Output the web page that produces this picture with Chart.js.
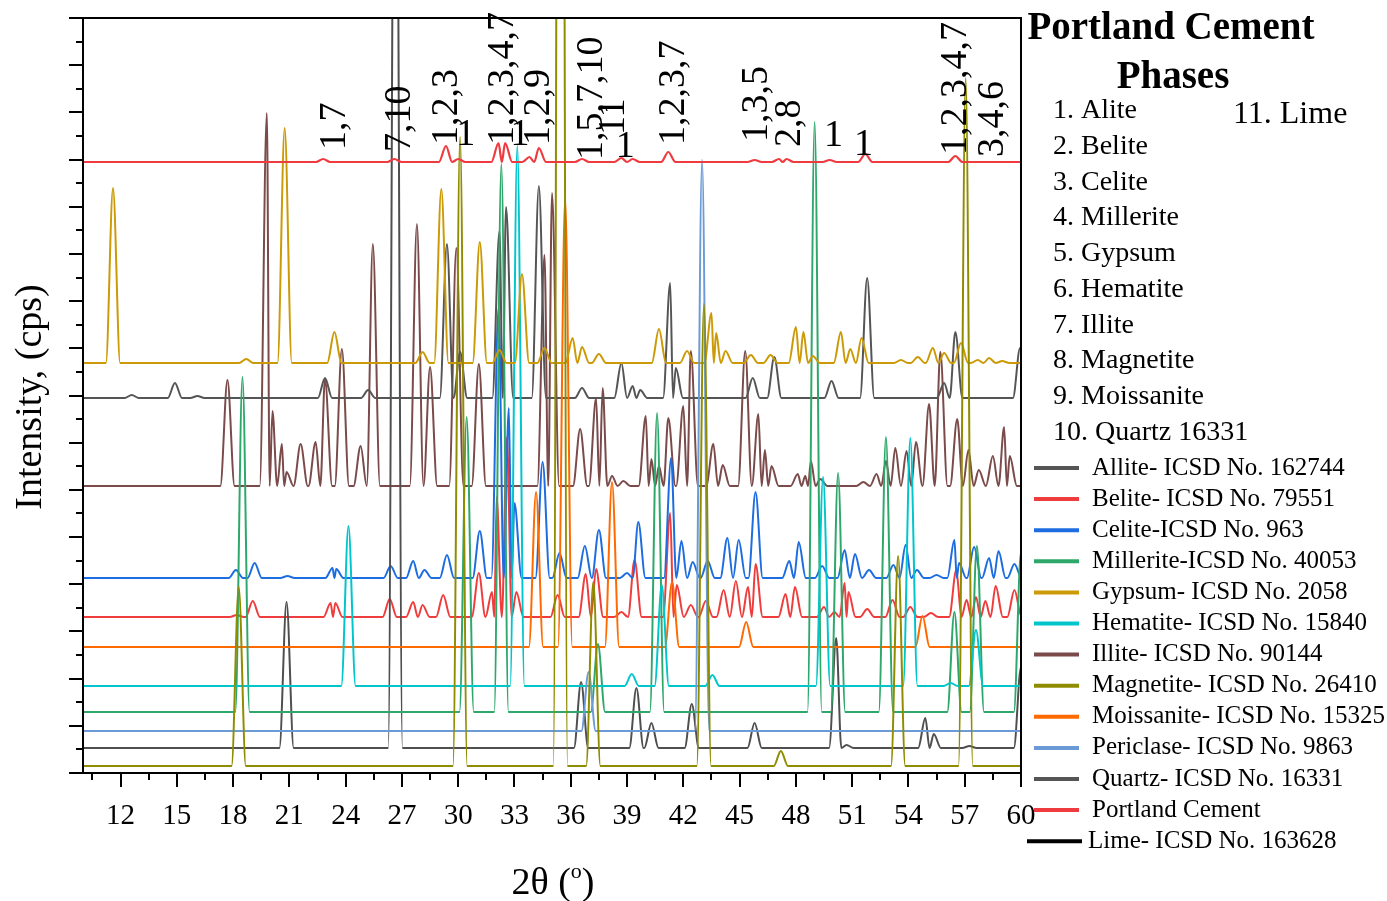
<!DOCTYPE html>
<html>
<head>
<meta charset="utf-8">
<script src="https://cdn.jsdelivr.net/npm/chart.js@4.4.0/dist/chart.umd.min.js"></script>
<style>
html, body { margin: 0; padding: 0; background: #fff; }
canvas { display: block; }
</style>
</head>
<body>
<canvas id="xrdChart" width="1387" height="901"></canvas>
<script>
// peak lists: [2theta, height above the trace's own baseline]
const portlandPeaks = [[22.8,3],[26.6,3],[29.35,16],[30.0,3],[32.15,19],[32.5,19],[33.8,5],[34.3,14],[36.6,3],[38.7,4],[39.3,3],[41.2,10],[45.8,2],[47.1,3],[47.5,3],[49.8,2],[51.7,8],[56.5,6]];
const gypsumPeaks = [[11.6,175],[18.7,4],[20.75,235],[23.4,31],[28.1,11],[29.1,174],[31.15,121],[32.2,13],[33.4,89],[34.6,15],[36.1,25],[36.6,16],[37.5,9],[40.7,34],[42.2,12],[43.5,50],[43.75,30],[44.25,12],[45.6,8],[46.65,8],[48.0,36],[48.4,31],[48.9,7],[50.4,31],[50.9,14],[51.5,25],[53.6,3],[54.5,6],[55.3,15],[55.9,10],[56.8,20],[57.7,3],[58.3,5],[59.0,2]];
const allitePeaks = [[12.6,3],[14.9,15],[16.1,2],[22.9,20],[25.2,8],[29.4,154],[30.1,46],[32.2,167],[32.55,191],[34.3,212],[36.6,10],[38.7,35],[39.3,12],[39.7,8],[41.3,115],[41.6,30],[45.7,20],[46.85,41],[49.9,17],[51.8,120],[55.9,15],[56.5,66],[59.95,50]];
const illitePeaks = [[17.7,106],[19.8,373],[20.1,75],[20.6,42],[20.85,14],[21.6,42],[22.4,44],[22.9,107],[23.8,137],[24.8,40],[25.45,242],[27.8,262],[28.5,119],[29.9,238],[31.1,122],[34.6,231],[35.0,293],[36.5,57],[37.35,88],[37.7,98],[38.2,10],[38.8,5],[40.0,70],[40.3,27],[40.7,20],[41.2,68],[42.0,80],[42.4,135],[43.6,42],[44.1,21],[45.3,135],[46.0,72],[46.35,36],[46.7,20],[48.1,12],[48.5,10],[48.8,25],[49.3,7],[51.6,4],[52.3,12],[52.8,25],[53.3,38],[53.9,35],[54.4,44],[55.1,82],[55.7,134],[56.6,67],[57.2,36],[57.75,16],[58.5,30],[59.1,59],[59.4,30]];
const celitePeaks = [[18.15,8],[19.15,15],[20.9,2],[23.3,10],[23.5,9],[26.4,12],[27.6,17],[28.2,8],[29.4,23],[31.15,47],[32.15,270],[32.7,170],[33.0,75],[34.5,116],[35.4,25],[36.75,32],[37.5,48],[39.0,5],[39.6,56],[41.35,120],[41.9,37],[42.5,16],[43.3,17],[44.35,40],[44.95,38],[45.85,86],[47.65,17],[48.15,36],[49.4,12],[50.6,28],[51.15,24],[51.9,8],[53.2,13],[53.85,33],[54.45,8],[55.5,3],[56.45,38],[56.7,15],[57.5,31],[58.3,20],[58.8,27],[59.65,14]];
const belitePeaks = [[18.2,2],[19.05,16],[23.2,14],[23.45,14],[26.35,18],[27.6,15],[28.1,12],[29.2,22],[31.1,44],[31.8,25],[32.05,120],[32.6,180],[33.1,25],[35.3,22],[36.8,43],[37.35,48],[38.7,5],[39.4,57],[41.3,104],[41.65,32],[42.4,12],[43.2,16],[44.15,27],[44.8,36],[45.45,30],[45.85,53],[47.45,23],[47.95,30],[49.5,10],[50.05,5],[50.6,34],[50.8,25],[51.8,8],[53.15,17],[54.1,10],[55.2,4],[56.55,47],[57.1,17],[57.6,20],[58.1,16],[58.65,31],[59.65,27]];
const moissanitePeaks = [[34.15,155],[35.7,449],[38.2,165],[41.4,65],[45.35,25],[54.75,31]];
const hematitePeaks = [[24.15,160],[33.15,540],[39.25,12],[40.85,101],[43.55,11],[49.45,209],[54.1,248],[56.25,3],[57.6,56]];
const milleritePeaks = [[18.5,335],[30.45,295],[32.3,548],[37.45,68],[40.6,299],[49.0,590],[50.25,239],[52.8,275],[56.45,100],[57.65,166],[60.0,160]];
const periclasePeaks = [[36.95,59],[43.0,571]];
const quartzPeaks = [[20.85,146],[26.65,1200],[36.55,66],[39.5,60],[40.3,25],[42.45,44],[45.8,25],[50.15,110],[50.7,3],[54.9,30],[55.35,14],[57.25,2],[60.0,81]];
const magnetitePeaks = [[18.3,179],[30.1,629],[35.45,2000],[37.2,184],[43.1,462],[47.2,15],[53.45,210],[57.05,688]];
const limePeaks = [];

// vertical offsets of the stacked patterns
const offsets = { portland: 611, gypsum: 410, allite: 375, illite: 287, celite: 195, belite: 156, moissanite: 126, hematite: 87, millerite: 61, periclase: 42, quartz: 25, magnetite: 7, lime: 0 };

const legendNames = ['Allite- ICSD No. 162744', 'Belite- ICSD No. 79551', 'Celite-ICSD No. 963', 'Millerite-ICSD No. 40053', 'Gypsum- ICSD No. 2058', 'Hematite- ICSD No. 15840', 'Illite- ICSD No. 90144', 'Magnetite- ICSD No. 26410', 'Moissanite- ICSD No. 15325', 'Periclase- ICSD No. 9863', 'Quartz- ICSD No. 16331', 'Portland Cement', 'Lime- ICSD No. 163628'];
const phaseNames = ['1. Alite', '2. Belite', '3. Celite', '4. Millerite', '5. Gypsum', '6. Hematite', '7. Illite', '8. Magnetite', '9. Moissanite', '10. Quartz 16331'];
const xTicks = [12, 15, 18, 21, 24, 27, 30, 33, 36, 39, 42, 45, 48, 51, 54, 57, 60];

// peak assignments written over the Portland cement pattern
const peakLabels = [
  { t: '1,7', x: 23.3, y: 623, rot: true },
  { t: '7,10', x: 26.8, y: 621, rot: true },
  { t: '1,2,3', x: 29.3, y: 628, rot: true },
  { t: '1', x: 30.4, y: 628, rot: false },
  { t: '1,2,3,4,7', x: 32.3, y: 628, rot: true },
  { t: '1', x: 33.3, y: 628, rot: false },
  { t: '1,2,9', x: 34.2, y: 628, rot: true },
  { t: '1,5,7,10', x: 37.0, y: 613, rot: true },
  { t: '11', x: 38.2, y: 638, rot: true },
  { t: '1', x: 38.9, y: 616, rot: false },
  { t: '1,2,3,7', x: 41.4, y: 628, rot: true },
  { t: '1,3,5', x: 45.8, y: 631, rot: true },
  { t: '2,8', x: 47.6, y: 626, rot: true },
  { t: '1', x: 50.0, y: 627, rot: false },
  { t: '1', x: 51.6, y: 618, rot: false },
  { t: '1,2,3,4,7', x: 56.45, y: 618, rot: true },
  { t: '3,4,6', x: 58.4, y: 616, rot: true }
];

const SERIF = '"Liberation Serif", "Times New Roman", serif';
const HALF_W = 0.38;

// turn a peak list into line points (baseline - top - baseline for each peak)
function peakLine(peaks, base) {
  const pts = [{ x: 9, y: base }];
  const ps = peaks.slice().sort((a, b) => a[0] - b[0]);
  ps.forEach((p, i) => {
    const prev = i > 0 ? ps[i - 1][0] : -Infinity;
    const next = i < ps.length - 1 ? ps[i + 1][0] : Infinity;
    const l = Math.max(p[0] - HALF_W, (prev + p[0]) / 2);
    const r = Math.min(p[0] + HALF_W, (p[0] + next) / 2);
    if (pts[pts.length - 1].x < l) pts.push({ x: l, y: base });
    pts.push({ x: p[0], y: base + p[1] });
    pts.push({ x: r, y: base });
  });
  pts.push({ x: 61, y: base });
  return pts;
}

const series = [
  { name: legendNames[11], peaks: portlandPeaks, off: offsets.portland, color: '#ef3b3f', width: 2.2 },
  { name: legendNames[12], peaks: limePeaks, off: offsets.lime, color: '#000000' },
  { name: legendNames[7], peaks: magnetitePeaks, off: offsets.magnetite, color: '#8f8c00' },
  { name: legendNames[9], peaks: periclasePeaks, off: offsets.periclase, color: '#6b9bd6' },
  { name: legendNames[4], peaks: gypsumPeaks, off: offsets.gypsum, color: '#cc9a06' },
  { name: legendNames[5], peaks: hematitePeaks, off: offsets.hematite, color: '#00c6cc' },
  { name: legendNames[3], peaks: milleritePeaks, off: offsets.millerite, color: '#2ea86a' },
  { name: legendNames[8], peaks: moissanitePeaks, off: offsets.moissanite, color: '#ff6a00' },
  { name: legendNames[0], peaks: allitePeaks, off: offsets.allite, color: '#555555' },
  { name: legendNames[10], peaks: quartzPeaks, off: offsets.quartz, color: '#4f4f4f' },
  { name: legendNames[2], peaks: celitePeaks, off: offsets.celite, color: '#1d6de0' },
  { name: legendNames[1], peaks: belitePeaks, off: offsets.belite, color: '#ef3d3d' },
  { name: legendNames[6], peaks: illitePeaks, off: offsets.illite, color: '#7a4b4a' }
];

const legendColors = ['#555555', '#ef3d3d', '#1d6de0', '#2ea86a', '#cc9a06', '#00c6cc', '#7a4b4a', '#8f8c00', '#ff6a00', '#6b9bd6', '#555555', '#ef3b3f', '#000000'];

const decorPlugin = {
  id: 'decor',
  afterDraw(chart) {
    const { ctx, chartArea: a, scales: { x, y } } = chart;
    ctx.save();
    ctx.fillStyle = '#000';
    ctx.strokeStyle = '#000';

    // frame
    ctx.lineWidth = 2;
    ctx.strokeRect(a.left, a.top, a.right - a.left, a.bottom - a.top);

    // x ticks
    ctx.beginPath();
    for (let v = 10.5; v < 60.01; v += 1.5) {
      const px = Math.round(x.getPixelForValue(v));
      const major = Math.abs((v - 12) / 3 - Math.round((v - 12) / 3)) < 1e-6;
      ctx.moveTo(px, a.bottom);
      ctx.lineTo(px, a.bottom + (major ? 14 : 7));
    }
    // y ticks
    const step = 755 / 32;
    for (let i = 0; i <= 32; i++) {
      const py = Math.round(y.getPixelForValue(i * step));
      ctx.moveTo(a.left, py);
      ctx.lineTo(a.left - (i % 2 === 0 ? 14 : 7), py);
    }
    ctx.stroke();

    // x tick labels
    ctx.font = '29px ' + SERIF;
    ctx.textAlign = 'center';
    ctx.textBaseline = 'middle';
    xTicks.forEach(v => ctx.fillText(String(v), x.getPixelForValue(v), 816));

    // axis titles
    ctx.textBaseline = 'alphabetic';
    const p1 = '2\u03b8 (', p2 = ')';
    ctx.font = '38px ' + SERIF;
    const w1 = ctx.measureText(p1).width, w3 = ctx.measureText(p2).width;
    ctx.font = '22px ' + SERIF;
    const w2 = ctx.measureText('o').width;
    const sx = 553 - (w1 + w2 + w3) / 2;
    ctx.textAlign = 'left';
    ctx.font = '38px ' + SERIF;
    ctx.fillText(p1, sx, 894);
    ctx.font = '22px ' + SERIF;
    ctx.fillText('o', sx + w1, 878);
    ctx.font = '38px ' + SERIF;
    ctx.fillText(p2, sx + w1 + w2, 894);

    ctx.save();
    ctx.translate(31, 397);
    ctx.rotate(-Math.PI / 2);
    ctx.textAlign = 'center';
    ctx.textBaseline = 'middle';
    ctx.font = '38px ' + SERIF;
    ctx.fillText('Intensity, (cps)', 0, 0);
    ctx.restore();

    // peak assignment labels
    ctx.font = '38px ' + SERIF;
    peakLabels.forEach(l => {
      const px = x.getPixelForValue(l.x), py = y.getPixelForValue(l.y);
      if (l.rot) {
        ctx.save();
        ctx.translate(px + 12, py);
        ctx.rotate(-Math.PI / 2);
        ctx.textAlign = 'left';
        ctx.textBaseline = 'alphabetic';
        ctx.fillText(l.t, 0, 0);
        ctx.restore();
      } else {
        ctx.textAlign = 'center';
        ctx.textBaseline = 'alphabetic';
        ctx.fillText(l.t, px, py);
      }
    });

    // phases box
    ctx.textAlign = 'center';
    ctx.textBaseline = 'middle';
    ctx.font = 'bold 39px ' + SERIF;
    ctx.fillText('Portland Cement', 1171, 29);
    ctx.fillText('Phases', 1173, 78);
    ctx.textAlign = 'left';
    ctx.font = '28px ' + SERIF;
    phaseNames.forEach((n, i) => ctx.fillText(n, 1053, 111 + i * 35.7));
    ctx.font = '32px ' + SERIF;
    ctx.fillText('11. Lime', 1233, 115);

    // series legend
    ctx.font = '25px ' + SERIF;
    legendNames.forEach((n, i) => {
      const ly = 468 + i * 31.1;
      const last = i === legendNames.length - 1;
      ctx.strokeStyle = legendColors[i];
      ctx.lineWidth = 4;
      ctx.beginPath();
      ctx.moveTo(last ? 1027 : 1034, ly);
      ctx.lineTo(last ? 1082 : 1079, ly);
      ctx.stroke();
      ctx.fillStyle = '#000';
      ctx.fillText(n, last ? 1088 : 1092, ly);
    });
    ctx.restore();
  }
};

new Chart(document.getElementById('xrdChart'), {
  type: 'line',
  data: {
    datasets: series.map(s => ({
      label: s.name,
      data: peakLine(s.peaks, s.off),
      borderColor: s.color,
      borderWidth: s.width || 2,
      pointRadius: 0,
      fill: false,
      cubicInterpolationMode: 'monotone'
    }))
  },
  options: {
    responsive: false,
    animation: false,
    layout: { padding: { left: 83, top: 18, right: 366, bottom: 128 } },
    plugins: { legend: { display: false }, tooltip: { enabled: false } },
    scales: {
      x: { type: 'linear', min: 10, max: 60, display: false },
      y: { min: 0, max: 755, display: false }
    }
  },
  plugins: [decorPlugin]
});
</script>
</body>
</html>
